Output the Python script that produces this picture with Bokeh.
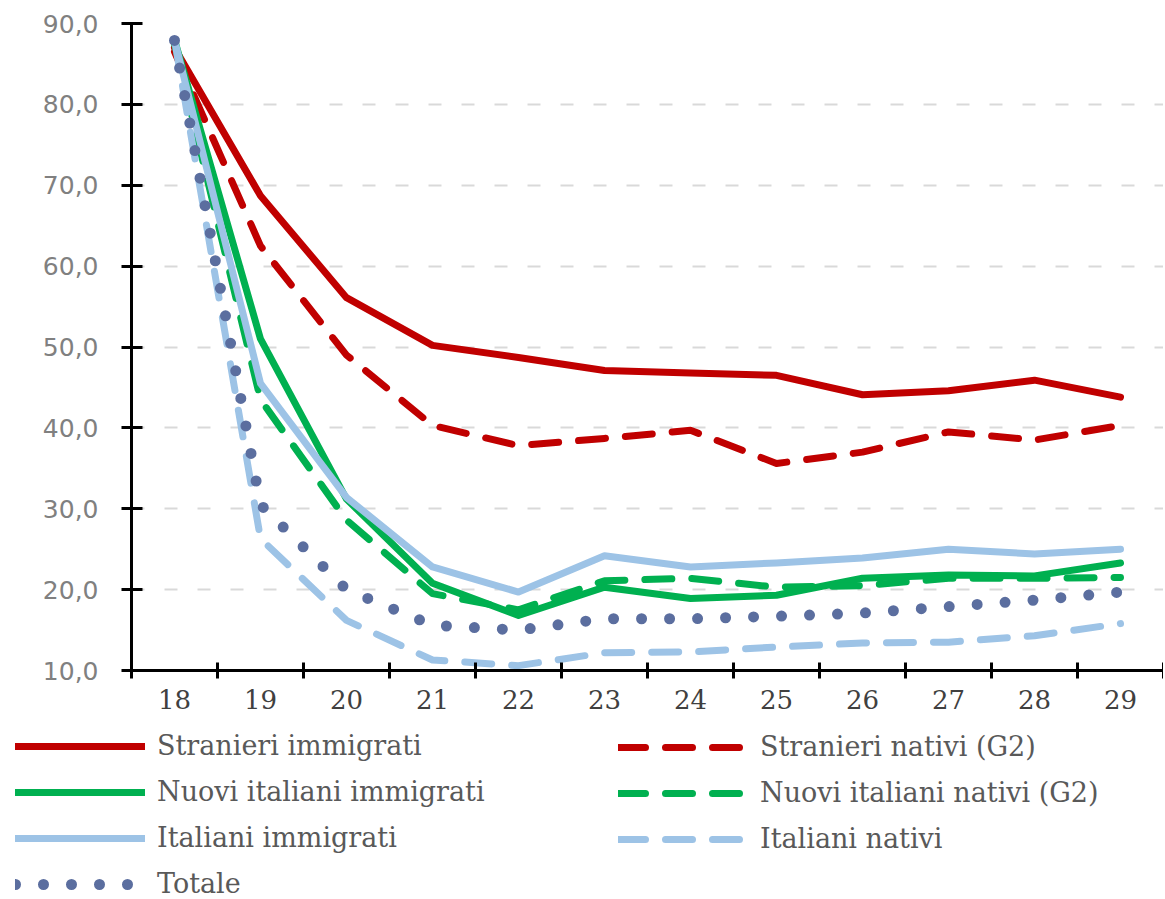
from bokeh.plotting import figure
from bokeh.models import Range1d, FixedTicker, Legend, LegendItem
from bokeh.embed import file_html
from bokeh.resources import INLINE

ages = [18, 19, 20, 21, 22, 23, 24, 25, 26, 27, 28, 29]
stranieri_immigrati = [87.0, 68.7, 56.1, 50.2, 48.7, 47.1, 46.8, 46.5, 44.1, 44.6, 45.9, 43.8]
stranieri_nativi = [86.5, 62.5, 49.0, 40.3, 37.8, 38.7, 39.7, 35.6, 37.0, 39.5, 38.5, 40.3]
nuovi_immigrati = [88.0, 51.0, 31.2, 20.8, 16.8, 20.3, 18.9, 19.3, 21.4, 21.8, 21.7, 23.3]
nuovi_nativi = [87.5, 43.5, 28.6, 19.5, 17.5, 21.1, 21.4, 20.3, 20.5, 21.4, 21.4, 21.5]
italiani_immigrati = [88.0, 45.5, 31.4, 22.8, 19.7, 24.2, 22.8, 23.3, 23.9, 25.0, 24.4, 25.0]
italiani_nativi = [88.0, 26.3, 16.2, 11.3, 10.6, 12.2, 12.3, 12.9, 13.4, 13.5, 14.3, 15.8]
totale = [87.9, 30.5, 20.0, 15.6, 15.0, 16.4, 16.4, 16.7, 17.1, 17.9, 18.7, 19.7]

y_ticks = [10, 20, 30, 40, 50, 60, 70, 80, 90]
y_tick_labels = ["10,0", "20,0", "30,0", "40,0", "50,0", "60,0", "70,0", "80,0", "90,0"]

labels = ["Stranieri immigrati", "Stranieri nativi (G2)", "Nuovi italiani immigrati",
          "Nuovi italiani nativi (G2)", "Italiani immigrati", "Italiani nativi", "Totale"]

RED = "#C00000"
GREEN = "#00B050"
LBLUE = "#9DC3E6"
DOT = "#5B6E9F"
DASH = "27 20"
DOTS = "0 28"

series = [
    (stranieri_immigrati, RED, 7, "solid"),
    (stranieri_nativi, RED, 7, DASH),
    (nuovi_immigrati, GREEN, 7, "solid"),
    (nuovi_nativi, GREEN, 7, DASH),
    (italiani_immigrati, LBLUE, 7, "solid"),
    (italiani_nativi, LBLUE, 7, DASH),
    (totale, DOT, 11, DOTS),
]

W = 1163
p = figure(width=W, height=718, output_backend="svg", toolbar_location=None,
           x_range=Range1d(17.5, 29.5), y_range=Range1d(10, 90),
           min_border_left=131, min_border_right=0, min_border_top=23, min_border_bottom=48)
p.outline_line_color = None

xa = p.xaxis[0]
xa.ticker = FixedTicker(ticks=ages, minor_ticks=[a - 0.5 for a in ages] + [ages[-1] + 0.5])
xa.major_tick_line_color = None
xa.major_tick_in = 0
xa.major_tick_out = 8
xa.minor_tick_line_color = "black"
xa.minor_tick_line_width = 3
xa.minor_tick_in = 8
xa.minor_tick_out = 8
xa.axis_line_width = 3
xa.axis_line_color = "black"
xa.major_label_text_font = "DejaVu Serif"
xa.major_label_text_font_size = "26px"
xa.major_label_text_color = "#404040"
xa.major_label_standoff = 11

ya = p.yaxis[0]
ya.ticker = FixedTicker(ticks=y_ticks, minor_ticks=[])
ya.major_label_overrides = {t: l for t, l in zip(y_ticks, y_tick_labels)}
ya.axis_line_width = 3
ya.axis_line_color = "black"
ya.major_tick_line_width = 3
ya.major_tick_line_color = "black"
ya.major_tick_in = 11
ya.major_tick_out = 10
ya.minor_tick_line_color = None
ya.major_label_text_font = "DejaVu Sans"
ya.major_label_text_font_size = "25px"
ya.major_label_text_color = "#808080"
ya.major_label_standoff = 23

p.xgrid.visible = False
p.ygrid.ticker = FixedTicker(ticks=y_ticks[1:])
p.ygrid.grid_line_color = "#d9d9d9"
p.ygrid.grid_line_width = 2
p.ygrid.grid_line_dash = "13 20"

for vals, col, lw, dash in series:
    p.line(ages, vals, line_color=col, line_width=lw, line_dash=dash,
           line_cap="round", line_join="round")

# legend panel (separate root, below the chart)
q = figure(width=W, height=181, output_backend="svg", toolbar_location=None,
           x_range=Range1d(0, 1), y_range=Range1d(0, 1),
           x_axis_type=None, y_axis_type=None, min_border=0)
q.outline_line_color = None
q.xgrid.visible = False
q.ygrid.visible = False

rs = []
for vals, col, lw, dash in series:
    # legend-only renderers, placed outside the visible range
    rs.append(q.line([-2, -1], [-2, -1], line_color=col, line_width=lw, line_dash=dash,
                     line_cap="round", line_join="round"))

common = dict(glyph_width=130, glyph_height=30, label_height=30, label_standoff=12, spacing=15,
              padding=0, margin=0, border_line_color=None, background_fill_alpha=0,
              label_text_font="DejaVu Serif", label_text_font_size="27px",
              label_text_color="#595959")

leg1 = Legend(items=[LegendItem(label=labels[i], renderers=[rs[i]]) for i in (0, 2, 4, 6)],
              location=(15, 0), **common)
leg2 = Legend(items=[LegendItem(label=labels[i], renderers=[rs[i]]) for i in (1, 3, 5)],
              location=(618, 45), **common)
q.add_layout(leg1, "center")
q.add_layout(leg2, "center")

open("out.html", "w").write(file_html([p, q], INLINE))
